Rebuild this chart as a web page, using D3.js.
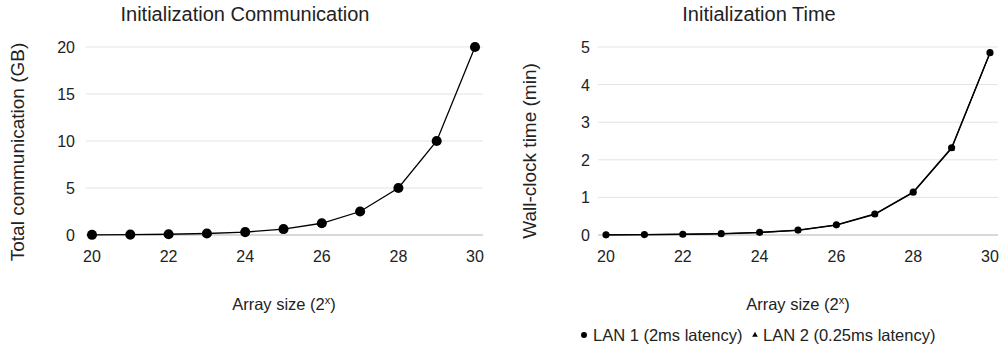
<!DOCTYPE html>
<html>
<head>
<meta charset="utf-8">
<title>Initialization</title>
<script src="https://d3js.org/d3.v7.min.js"></script>
<style>
  body { margin: 0; background: #fff; }
  svg text { font-family: "Liberation Sans", Arial, sans-serif; fill: #222; }
  .grid line { stroke: #e3e3e3; }
  .base { stroke: #b3b3b3; }
</style>
</head>
<body>
<div id="chart"></div>
<script>
"use strict"

// array size exponents
var sizes = [20, 21, 22, 23, 24, 25, 26, 27, 28, 29, 30];
var xTicks = [20, 22, 24, 26, 28, 30];

// communication in GB
var commGB = [0.02, 0.04, 0.08, 0.16, 0.31, 0.63, 1.25, 2.5, 5, 10, 20];
var commTicks = [0, 5, 10, 15, 20];

// wall-clock time in minutes
var lan1Min = [0.005, 0.01, 0.02, 0.035, 0.07, 0.13, 0.27, 0.56, 1.14, 2.32, 4.85];
var lan2Min = [0.004, 0.009, 0.018, 0.032, 0.065, 0.125, 0.26, 0.55, 1.13, 2.3, 4.84];
var timeTicks = [0, 1, 2, 3, 4, 5];

var svg = d3.select('#chart').append('svg')
  .attr('width', 1003).attr('height', 347);

function panel(opt) {
  var x = d3.scaleLinear().domain([20, 30]).range([opt.x0, opt.x1]);
  var y = d3.scaleLinear().domain([0, opt.ymax]).range([235, 47]);
  var g = svg.append('g');

  g.append('g').attr('class', 'grid')
    .selectAll('line').data(opt.yticks.filter(d => d > 0)).enter()
    .append('line')
      .attr('x1', opt.g0).attr('x2', opt.g1)
      .attr('y1', d => y(d)).attr('y2', d => y(d));

  g.append('line').attr('class', 'base')
    .attr('x1', opt.g0).attr('x2', opt.g1)
    .attr('y1', y(0)).attr('y2', y(0));

  g.selectAll('.yt').data(opt.yticks).enter()
    .append('text')
      .attr('x', opt.g0 - opt.tickGap).attr('y', d => y(d) + 6)
      .attr('text-anchor', 'end').style('font-size', '16px')
      .text(d => d);

  g.selectAll('.xt').data(xTicks).enter()
    .append('text')
      .attr('x', d => x(d)).attr('y', 262)
      .attr('text-anchor', 'middle').style('font-size', '16px')
      .text(d => d);

  g.append('text').attr('x', opt.titleX).attr('y', 21)
    .attr('text-anchor', 'middle').style('font-size', '20px')
    .text(opt.title);

  var xt = g.append('text').attr('x', opt.xlabX).attr('y', 310)
    .attr('text-anchor', 'middle').style('font-size', '16.5px');
  xt.append('tspan').text('Array size (2');
  xt.append('tspan').attr('dy', -6).style('font-size', '11px').text('x');
  xt.append('tspan').attr('dy', 6).text(')');

  g.append('text')
    .attr('transform', 'translate(' + opt.ylabX + ',' + opt.ylabY + ') rotate(-90)')
    .attr('text-anchor', 'middle').style('font-size', '19px')
    .text(opt.ylab);

  var line = d3.line().x((d, i) => x(sizes[i])).y(d => y(d));
  opt.series.forEach(function(s) {
    g.append('path').datum(s.values)
      .attr('d', line).attr('fill', 'none')
      .attr('stroke', '#000').attr('stroke-width', 1.3);
  });
  opt.series.forEach(function(s) {
    g.selectAll(null).data(s.values).enter()
      .append('path')
        .attr('transform', (d, i) => 'translate(' + x(sizes[i]) + ',' + y(d) + ')')
        .attr('d', d3.symbol().type(s.shape).size(s.size))
        .attr('fill', '#000');
  });
  return {x: x, y: y};
}

panel({
  x0: 92, x1: 475, g0: 86, g1: 483, ymax: 20, yticks: commTicks, tickGap: 11,
  title: 'Initialization Communication', titleX: 245,
  xlabX: 284, ylab: 'Total communication (GB)', ylabX: 24, ylabY: 152,
  series: [{values: commGB, shape: d3.symbolCircle, size: 80}]
});

panel({
  x0: 606, x1: 990, g0: 598, g1: 998, ymax: 5, yticks: timeTicks, tickGap: 8,
  title: 'Initialization Time', titleX: 759,
  xlabX: 798, ylab: 'Wall-clock time (min)', ylabX: 536, ylabY: 151,
  series: [
    {values: lan1Min, shape: d3.symbolCircle, size: 40},
    {values: lan2Min, shape: d3.symbolTriangle, size: 18}
  ]
});

// legend
var leg = svg.append('g').attr('transform', 'translate(584,335)');
leg.append('path').attr('d', d3.symbol().type(d3.symbolCircle).size(28)).attr('fill', '#000');
leg.append('text').attr('x', 9).attr('y', 6).style('font-size', '16.5px').text('LAN 1 (2ms latency)');
leg.append('path').attr('transform', 'translate(171,0)')
  .attr('d', d3.symbol().type(d3.symbolTriangle).size(14)).attr('fill', '#000');
leg.append('text').attr('x', 179).attr('y', 6).style('font-size', '16.5px').text('LAN 2 (0.25ms latency)');
</script>
</body>
</html>
